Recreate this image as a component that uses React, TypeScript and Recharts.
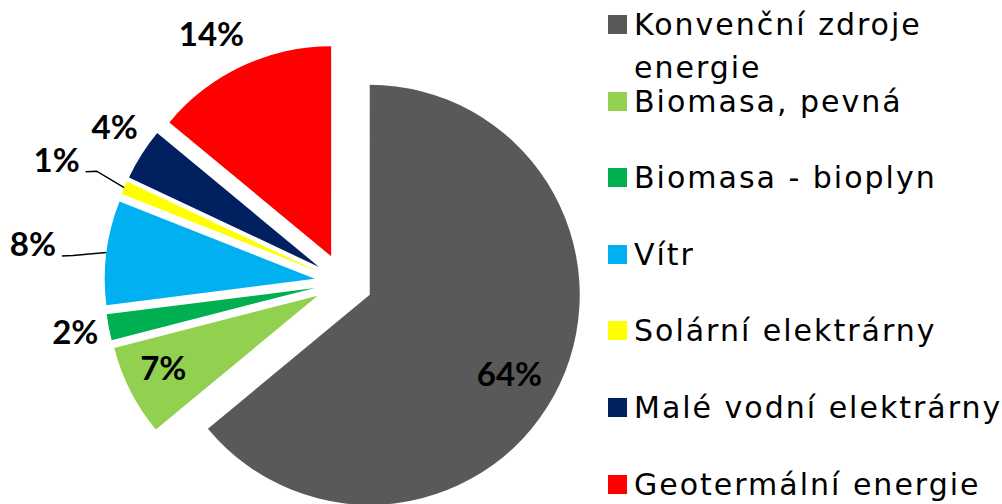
import React from 'react';
import { PieChart, Pie, Cell, Sector, Legend } from 'recharts';

const categories = [
  'Konvenční zdroje energie',
  'Biomasa, pevná',
  'Biomasa - bioplyn',
  'Vítr',
  'Solární elektrárny',
  'Malé vodní elektrárny',
  'Geotermální energie',
];
const shares = [64, 7, 2, 8, 1, 4, 14];
const colors = ['#595959', '#92D050', '#00B050', '#00B0F0', '#FFFF00', '#002060', '#FF0000'];

const data = categories.map((name, i) => ({ name, value: shares[i] }));

const RAD = Math.PI / 180;
const EXPLODE = 29;
// label distance from each exploded apex, plus small nudges to sit like the original
const labelRadius = [161, 171, 243, 283, 289, 248, 253];
const labelNudge = [[-6, 10], [-2, -6], [-1, -2], [-1, 0], [5, 3], [5, -8], [-12, 6]];
const withLeader = [false, false, false, true, true, false, false];

const ExplodedSector = (props: any) => {
  const { cx, cy, midAngle } = props;
  const dx = EXPLODE * Math.cos(-midAngle * RAD);
  const dy = EXPLODE * Math.sin(-midAngle * RAD);
  return <Sector {...props} cx={cx + dx} cy={cy + dy} stroke="none" />;
};

const renderLabel = (props: any) => {
  const { cx, cy, midAngle, outerRadius, percent, index } = props;
  const cos = Math.cos(-midAngle * RAD);
  const sin = Math.sin(-midAngle * RAD);
  const ax = cx + EXPLODE * cos;
  const ay = cy + EXPLODE * sin;
  const x = ax + labelRadius[index] * cos + labelNudge[index][0];
  const y = ay + labelRadius[index] * sin + labelNudge[index][1];
  const ex = ax + outerRadius * cos;
  const ey = ay + outerRadius * sin;
  return (
    <g key={`lbl-${index}`}>
      {withLeader[index] && (
        <polyline
          points={`${x + 29},${y + 12.5} ${x + 40},${y + 12} ${ex},${ey}`}
          fill="none"
          stroke="#000"
          strokeWidth={1.5}
        />
      )}
      <text
        x={x}
        y={y}
        textAnchor="middle"
        dominantBaseline="central"
        fontFamily="Lato, sans-serif"
        fontWeight="bold"
        fontSize={33}
        fill="#000"
      >
        {`${Math.round(percent * 100)}%`}
      </text>
    </g>
  );
};

const renderLegend = (props: any) => {
  const items = [...(props.payload || [])].sort(
    (a: any, b: any) => categories.indexOf(a.value) - categories.indexOf(b.value)
  );
  return (
    <div style={{ position: 'relative', width: 394 }}>
      {items.map((entry: any, i: number) => (
        <div key={`leg-${i}`} style={{ position: 'absolute', left: 0, top: i * 76.6, width: 394 }}>
          <div
            style={{
              position: 'absolute',
              left: 0,
              top: 12,
              width: 19,
              height: 19,
              background: entry.color,
            }}
          />
          <div
            style={{
              position: 'absolute',
              left: 26,
              top: 0,
              width: 374,
              fontFamily: '"DejaVu Sans", sans-serif',
              fontSize: 30,
              letterSpacing: 2,
              lineHeight: '43px',
              color: '#000',
            }}
          >
            {entry.value}
          </div>
        </div>
      ))}
    </div>
  );
};

export default function App() {
  return (
    <div style={{ position: 'absolute', left: 0, top: 0, width: 1002, height: 504, background: '#fff', overflow: 'hidden' }}>
      <PieChart width={1002} height={504} margin={{ top: 0, right: 0, bottom: 0, left: 0 }}>
        <Pie
          data={data}
          dataKey="value"
          nameKey="name"
          cx={343.5}
          cy={282.5}
          outerRadius={210}
          startAngle={90}
          endAngle={-270}
          stroke="none"
          shape={ExplodedSector}
          label={renderLabel}
          labelLine={false}
          isAnimationActive={false}
        >
          {data.map((d, i) => (
            <Cell key={d.name} fill={colors[i]} />
          ))}
        </Pie>
        <Legend
          layout="vertical"
          align="right"
          verticalAlign="middle"
          content={renderLegend}
          wrapperStyle={{ left: 608, top: 3, right: 'auto', bottom: 'auto', width: 394, height: 500 }}
        />
      </PieChart>
    </div>
  );
}
